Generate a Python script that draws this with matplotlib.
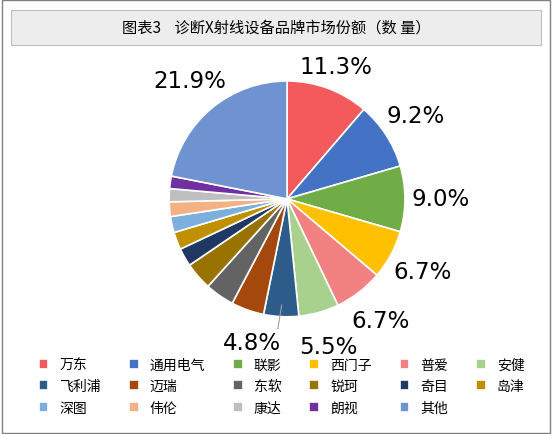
import matplotlib
matplotlib.use("Agg")
import matplotlib.pyplot as plt
import numpy as np
plt.rcParams['font.family'] = ['Noto Sans CJK SC', 'DejaVu Sans']

brands = ['万东','通用电气','联影','西门子','普爱','安健','飞利浦','迈瑞','东软','锐珂','奇目','岛津','深图','伟伦','康达','朗视','其他']
shares = [11.3,9.2,9.0,6.7,6.7,5.5,4.8,4.5,4.0,3.8,2.5,2.4,2.2,2.0,1.8,1.7,21.9]
colors = ['#F4595B','#4472C4','#70AD47','#FFC000','#F28282','#A9D18E','#2E5C8A','#A5480E','#636363','#997300','#1F3864','#BF9000','#7CAFDD','#F4B183','#BFBFBF','#7030A0','#6F93D1']
labeled = {0,1,2,3,4,5,6,16}

fig = plt.figure(figsize=(5.52,4.35), dpi=100)
fig.patches.append(plt.Rectangle((0.003,0.003),0.994,0.994,transform=fig.transFigure,fill=False,ec='#808080',lw=1))
fig.patches.append(plt.Rectangle((0.02,0.895),0.96,0.08,transform=fig.transFigure,fc='#EDEDED',ec='#BFBFBF',lw=0.8))
fig.text(0.5,0.935,'图表3    诊断X射线设备品牌市场份额（数 量）',ha='center',va='center',fontsize=11)

ax = fig.add_axes([0.285,0.242,0.47,0.597])
wedges,_ = ax.pie(shares,colors=colors,startangle=90,counterclock=False,
                  wedgeprops=dict(ec='white',lw=1.2))
ax.set_aspect('equal')
tot = sum(shares)
cum = 0
for i,v in enumerate(shares):
    mid = 90 - (cum + v/2)/tot*360
    cum += v
    if i not in labeled: continue
    a = np.deg2rad(mid)
    r = 1.2 if i == 0 else 1.3
    if i == 6:
        ax.plot([0.9*np.cos(a),1.1*np.cos(a)-0.03],[0.9*np.sin(a),1.15*np.sin(a)],color='#A0A0A0',lw=0.8)
        ax.text(1.2*np.cos(a)-0.24,1.22*np.sin(a),f'{v}%',ha='center',va='center',fontsize=16.5,family='DejaVu Sans')
        continue
    ax.text(r*np.cos(a),r*np.sin(a),f'{v}%',ha='center',va='center',fontsize=16.5,family='DejaVu Sans')
ax.set_xlim(-1.1,1.1); ax.set_ylim(-1.1,1.1)

order = []
for j in range(6):
    for k in range(3):
        idx = j + 6*k
        if idx < len(brands): order.append(idx)
lax = fig.add_axes([0.05,0.02,0.92,0.18]); lax.axis('off')
lax.legend([wedges[i] for i in order],[brands[i] for i in order],ncol=6,loc='center',frameon=False,fontsize=10,
           handlelength=0.7,handleheight=0.7,columnspacing=2.0,labelspacing=0.55)
fig.savefig('out.png',dpi=100)
